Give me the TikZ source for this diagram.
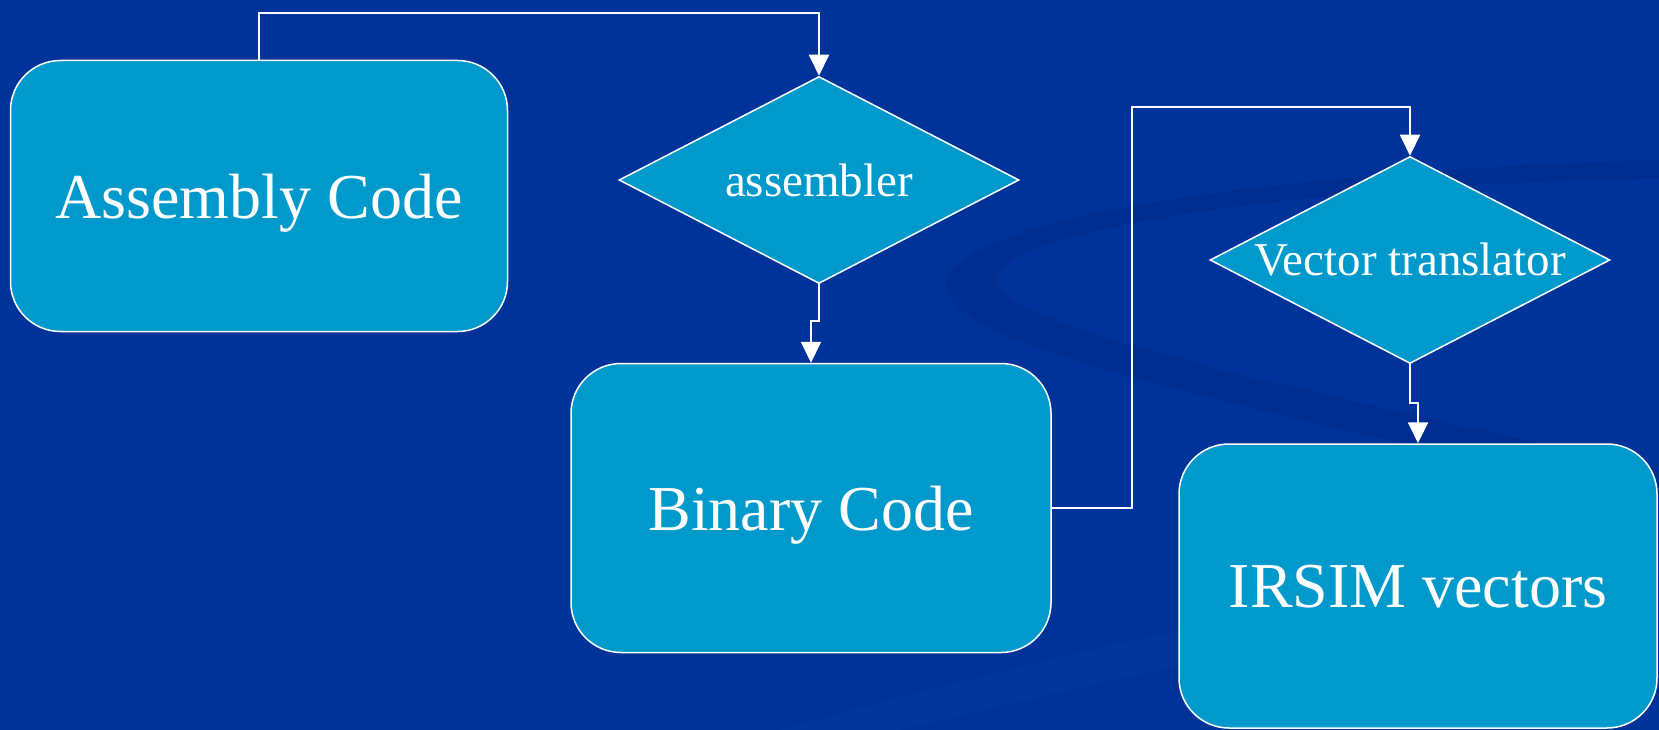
\documentclass[tikz,border=0pt]{standalone}
\usepackage{fontspec}
\setmainfont{Liberation Serif}
\usetikzlibrary{shapes.geometric,arrows.meta}

\definecolor{slideblue}{RGB}{0,51,153}
\definecolor{swirlblue}{RGB}{0,46,144}
\definecolor{sheenblue}{RGB}{6,58,160}
\definecolor{boxcyan}{RGB}{0,153,204}

\tikzset{
  codebox/.style={shape=rectangle,rounded corners=50pt,draw=white,line width=1.5pt,
    fill=boxcyan,text=white,text depth=0pt,font=\fontsize{64}{70}\selectfont},
  decision/.style={shape=diamond,aspect=1.93,draw=white,line width=1.5pt,fill=boxcyan,
    inner sep=0pt,minimum width=400pt,minimum height=207pt},
  decisiontext/.style={text=white,font=\fontsize{47}{52}\selectfont},
  flow/.style={draw=white,line width=2pt,-{Triangle[width=20pt,length=21pt]}}
}

\begin{document}
\begin{tikzpicture}[x=1pt,y=-1pt]

        % slide background
        \fill[slideblue] (0,0) rectangle (1659,730);
        \useasboundingbox (0,0) rectangle (1659,730);
        \fill[sheenblue,opacity=0.5] (780,730) .. controls (1100,640) and (1400,580) .. (1659,545)
            -- (1659,575) .. controls (1420,610) and (1150,670) .. (900,730) -- cycle;
        \fill[swirlblue] (1659,160) .. controls (1300,170) and (950,215) .. (946,285)
            .. controls (945,350) and (1300,420) .. (1659,500)
            -- (1659,470) .. controls (1350,400) and (1000,330) .. (995,280)
            .. controls (995,230) and (1300,185) .. (1659,178) -- cycle;

        \node[codebox,minimum width=497pt,minimum height=271pt] (asm) at (259,196) {Assembly Code};
        \node[decision,label={[decisiontext]center:assembler}] (asmb) at (819,180) {};
        \node[codebox,minimum width=480pt,minimum height=289pt] (bin) at (811,508) {Binary Code};
        \node[decision,label={[decisiontext]center:Vector translator}] (vt) at (1410,260) {};
        \node[codebox,minimum width=478pt,minimum height=284pt] (irsim) at (1418,586) {IRSIM vectors};

        \coordinate (up1) at (259,13);
        \coordinate (up2) at (1132,107);

        \draw[flow] (asm.north) -- (up1) -| (asmb.north);
        \draw[flow] (asmb.south) -- ++(0,37) -| (bin.north);
        \draw[flow] (bin.east) -| (up2) -| (vt.north);
        \draw[flow] (vt.south) -- ++(0,39) -| (irsim.north);

    \end{tikzpicture}
\end{document}
